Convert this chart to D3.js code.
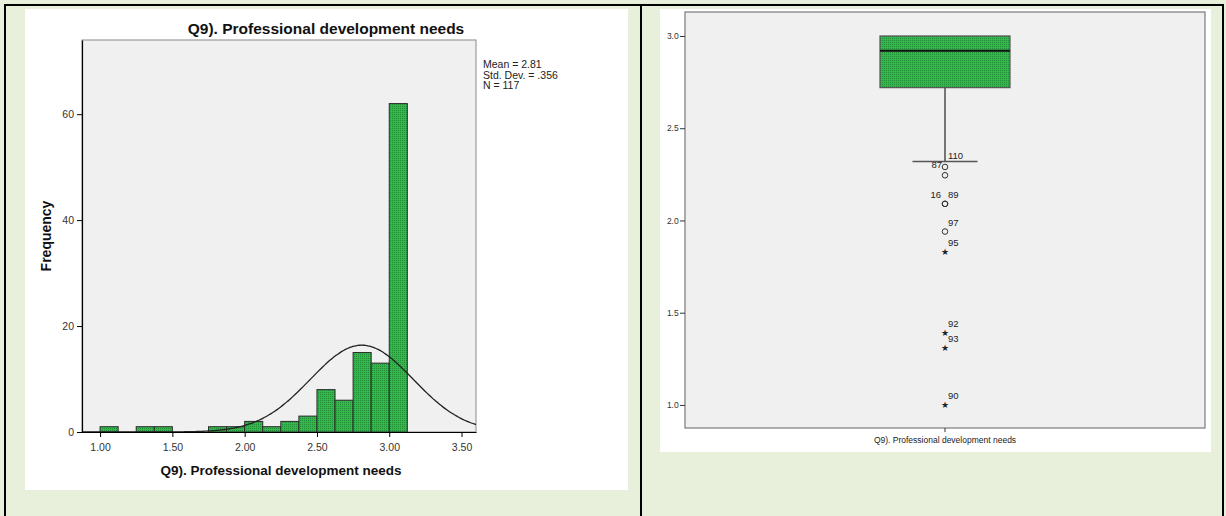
<!DOCTYPE html>
<html><head><meta charset="utf-8">
<script src="https://cdn.jsdelivr.net/npm/d3@7"></script>
<style>
html,body{margin:0;padding:0;background:#e8f0dc;}
svg{display:block;font-family:"Liberation Sans",Arial,sans-serif;}
</style></head>
<body>
<svg id="c" width="1226" height="516"></svg>
<script>
// ---------- DATA ----------
const chartTitle = "Q9). Professional development needs";
const binStarts = [1.0, 1.25, 1.375, 1.75, 1.875, 2.0, 2.125, 2.25, 2.375, 2.5, 2.625, 2.75, 2.875, 3.0];
const binCounts = [1, 1, 1, 1, 1, 2, 1, 2, 3, 8, 6, 15, 13, 62];
const binWidth = 0.125;
const histXTicks = [1.0, 1.5, 2.0, 2.5, 3.0, 3.5];
const histYTicks = [0, 20, 40, 60];
const statMean = 2.81, statSD = 0.356, statN = 117;
const statLines = ["Mean = 2.81", "Std. Dev. = .356", "N = 117"];

const boxStats = {q1: 2.72, median: 2.92, q3: 3.0, lowWhisker: 2.32, highWhisker: 3.0};
const boxYTicks = [1.0, 1.5, 2.0, 2.5, 3.0];
const outlierValues = [2.29, 2.245, 2.09, 2.09, 1.94, 1.83, 1.39, 1.31, 1.0];
const outlierLabels = ["87", "", "16", "89", "97", "95", "92", "93", "90"];
const outlierKinds  = ["o", "o", "o", "o", "o", "*", "*", "*", "*"];
const whiskerLabel = "110";

// ---------- DRAW ----------
const svg = d3.select("#c");
const defs = svg.append("defs");
const pat = defs.append("pattern").attr("id","dots").attr("width",2).attr("height",2).attr("patternUnits","userSpaceOnUse");
pat.append("rect").attr("width",2).attr("height",2).attr("fill","#36b84c");
pat.append("rect").attr("width",1).attr("height",1).attr("fill","#1f8c36");

// background panels and borders
svg.append("rect").attr("x",25).attr("y",9).attr("width",603).attr("height",481).attr("fill","#ffffff");
svg.append("rect").attr("x",660).attr("y",9).attr("width",551).attr("height",443).attr("fill","#ffffff");
const bl = svg.append("g").attr("stroke","#000").attr("stroke-width",2);
bl.append("line").attr("x1",4).attr("x2",1224).attr("y1",5).attr("y2",5);
bl.append("line").attr("x1",5).attr("x2",5).attr("y1",4).attr("y2",516);
bl.append("line").attr("x1",641).attr("x2",641).attr("y1",4).attr("y2",516);
bl.append("line").attr("x1",1223).attr("x2",1223).attr("y1",4).attr("y2",516);

// ----- Histogram -----
const hx = d3.scaleLinear().domain([0.875, 3.6]).range([82, 476]);
const hy = d3.scaleLinear().domain([0, 74]).range([432, 40]);
svg.append("rect").attr("x",hx.range()[0]).attr("y",hy.range()[1])
  .attr("width",hx.range()[1]-hx.range()[0]).attr("height",hy.range()[0]-hy.range()[1])
  .attr("fill","#f0f0f0").attr("stroke","#8a8a8a").attr("stroke-width",1);

const bins = binStarts.map((s,i)=>({x0:s, x1:s+binWidth, n:binCounts[i]}));
svg.append("g").selectAll("rect").data(bins).join("rect")
  .attr("x",d=>hx(d.x0)).attr("width",d=>hx(d.x1)-hx(d.x0))
  .attr("y",d=>hy(d.n)).attr("height",d=>hy(0)-hy(d.n))
  .attr("fill","url(#dots)").attr("stroke","#2b2b2b").attr("stroke-width",1);

// normal curve from the stated mean / sd / N
const curvePts = d3.range(0, 201).map(i=>{
  const x = hx.domain()[0] + (hx.domain()[1]-hx.domain()[0])*i/200;
  const y = statN*binWidth/(statSD*Math.sqrt(2*Math.PI))*Math.exp(-0.5*((x-statMean)/statSD)**2);
  return [x,y];
});
svg.append("path").attr("d", d3.line().x(d=>hx(d[0])).y(d=>hy(d[1])).curve(d3.curveBasis)(curvePts))
  .attr("fill","none").attr("stroke","#222").attr("stroke-width",1.3);

const hxAxis = svg.append("g").attr("transform",`translate(0,${hy(0)})`)
  .call(d3.axisBottom(hx).tickValues(histXTicks).tickFormat(d3.format(".2f")).tickSize(5).tickSizeOuter(0));
const hyAxis = svg.append("g").attr("transform",`translate(${hx.range()[0]},0)`)
  .call(d3.axisLeft(hy).tickValues(histYTicks).tickSize(5).tickSizeOuter(0));
[hxAxis, hyAxis].forEach(a=>{
  a.select(".domain").attr("stroke","#000").attr("stroke-width",1.2);
  a.selectAll(".tick line").attr("stroke","#000");
  a.selectAll("text").attr("font-size",10.5).attr("fill","#333").attr("font-family","Liberation Sans, Arial, sans-serif");
});
hxAxis.selectAll("text").attr("dy","1.05em");

svg.append("text").attr("x",326).attr("y",34).attr("text-anchor","middle")
  .attr("font-size",15.5).attr("fill","#111").attr("font-weight","bold").text(chartTitle);
svg.append("text").attr("x",281).attr("y",475).attr("text-anchor","middle")
  .attr("font-size",13.5).attr("font-weight","bold").attr("fill","#111").text(chartTitle);
svg.append("text").attr("transform","translate(51,236) rotate(-90)").attr("text-anchor","middle")
  .attr("font-size",14).attr("font-weight","bold").attr("fill","#111").text("Frequency");
svg.append("g").selectAll("text").data(statLines).join("text")
  .attr("x",483).attr("y",(d,i)=>68+i*10.5).attr("font-size",10.5).attr("fill","#222").text(d=>d);

// ----- Boxplot -----
const bx = d3.scaleBand().domain([chartTitle]).range([685,1205]).paddingInner(0).paddingOuter(1.5);
const by = d3.scaleLinear().domain([0.875, 3.13]).range([428, 12]);
svg.append("rect").attr("x",685).attr("y",by.range()[1]).attr("width",520).attr("height",by.range()[0]-by.range()[1])
  .attr("fill","#f0f0f0").attr("stroke","#7a7a7a").attr("stroke-width",1.2);
const cx = bx(chartTitle) + bx.bandwidth()/2;
const bw = bx.bandwidth();

svg.append("line").attr("x1",cx).attr("x2",cx).attr("y1",by(boxStats.q1)).attr("y2",by(boxStats.lowWhisker))
  .attr("stroke","#333").attr("stroke-width",1.3);
svg.append("line").attr("x1",cx-bw/4).attr("x2",cx+bw/4).attr("y1",by(boxStats.lowWhisker)).attr("y2",by(boxStats.lowWhisker))
  .attr("stroke","#555").attr("stroke-width",1.5);
svg.append("rect").attr("x",bx(chartTitle)).attr("width",bw)
  .attr("y",by(boxStats.q3)).attr("height",by(boxStats.q1)-by(boxStats.q3))
  .attr("fill","url(#dots)").attr("stroke","#555").attr("stroke-width",1.2);
svg.append("line").attr("x1",bx(chartTitle)).attr("x2",bx(chartTitle)+bw).attr("y1",by(boxStats.median)).attr("y2",by(boxStats.median))
  .attr("stroke","#111").attr("stroke-width",2.2);
svg.append("text").attr("x",cx+3).attr("y",by(boxStats.lowWhisker)-2).attr("font-size",9.5).attr("fill","#222").text(whiskerLabel);

const outs = outlierValues.map((v,i)=>({v, lab:outlierLabels[i], kind:outlierKinds[i]}));
const og = svg.append("g");
outs.forEach(d=>{
  if(d.kind==="o"){
    og.append("circle").attr("cx",cx).attr("cy",by(d.v)).attr("r",2.8).attr("fill","none").attr("stroke","#333").attr("stroke-width",1);
  } else {
    og.append("text").attr("x",cx).attr("y",by(d.v)+3.5).attr("text-anchor","middle").attr("font-size",8.5).attr("fill","#222").text("\u2605");
  }
});
// labels
const leftLabels = new Set(["87","16"]);
outs.forEach(d=>{
  if(!d.lab) return;
  const left = leftLabels.has(d.lab);
  const lx = left ? cx - (d.lab==="87"?3:4) : cx + 3;
  const ly = d.lab==="87" ? by(d.v)+1 : by(d.v)-6;
  og.append("text").attr("x",lx).attr("y",ly).attr("text-anchor", left?"end":"start")
    .attr("font-size",9.5).attr("fill","#222").text(d.lab);
});

const byAxis = svg.append("g").attr("transform","translate(685,0)")
  .call(d3.axisLeft(by).tickValues(boxYTicks).tickFormat(d3.format(".1f")).tickSize(5).tickSizeOuter(0));
byAxis.select(".domain").remove();
byAxis.selectAll(".tick line").attr("stroke","#333");
byAxis.selectAll("text").attr("font-size",8.5).attr("fill","#333").attr("font-family","Liberation Sans, Arial, sans-serif").attr("dx","0.2em");
const bxAxis = svg.append("g").attr("transform","translate(0,428)")
  .call(d3.axisBottom(bx).tickSize(4).tickSizeOuter(0));
bxAxis.select(".domain").remove();
bxAxis.selectAll(".tick line").attr("stroke","#333");
bxAxis.selectAll("text").attr("font-size",8.5).attr("fill","#222").attr("font-family","Liberation Sans, Arial, sans-serif").attr("dy","0.9em");
</script>
</body></html>
